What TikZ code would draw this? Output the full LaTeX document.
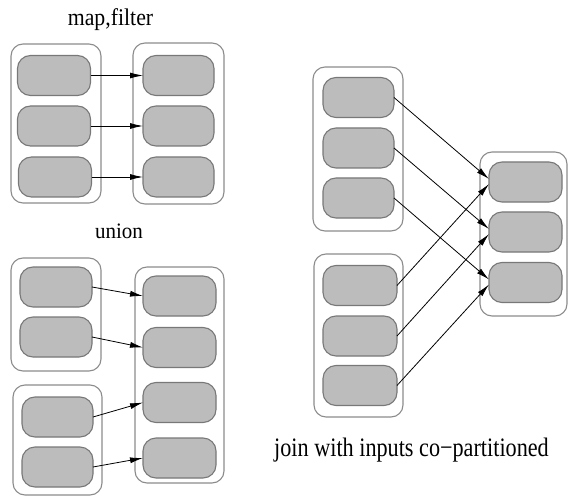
\documentclass[tikz,border=0pt]{standalone}
\usepackage{fontspec}
\setmainfont{Liberation Serif}
\usetikzlibrary{arrows.meta}

\definecolor{partfill}{RGB}{188,188,188}
\definecolor{partline}{RGB}{120,120,120}
\definecolor{groupline}{RGB}{140,140,140}

\begin{document}
\begin{tikzpicture}[
  x=1bp, y=-1bp,
  group/.style={draw=groupline, line width=1.1bp, fill=white, rounded corners=12bp,
                inner sep=0pt, outer sep=0pt},
  part/.style={draw=partline, line width=1.1bp, fill=partfill, rounded corners=13bp,
               inner sep=0pt, outer sep=0pt, minimum height=40bp},
  flow/.style={line width=0.8bp, -{Latex[length=13bp,width=6bp]}},
  caption/.style={anchor=base, inner sep=0pt}
]
\useasboundingbox (0,0) rectangle (568,496);

% ---------- map, filter ----------
\node[caption, font=\fontsize{21.8bp}{26bp}\selectfont, yscale=1.1] (tmap) at (110.5,25.5) {map,filter};
\node[group, minimum width=90bp, minimum height=159bp] (mA) at (56,123.5) {};
\node[group, minimum width=91bp, minimum height=161bp] (mB) at (178.5,123.5) {};
\node[part, minimum width=73bp] (ma1) at (54,75.5) {};
\node[part, minimum width=73bp] (ma2) at (54,126) {};
\node[part, minimum width=73bp] (ma3) at (55,177) {};
\node[part, minimum width=71bp] (mb1) at (178.5,75.5) {};
\node[part, minimum width=71bp] (mb2) at (178.5,126) {};
\node[part, minimum width=71bp] (mb3) at (178.5,177) {};
\draw[flow] (ma1) -- (mb1);
\draw[flow] (ma2) -- (mb2);
\draw[flow] (ma3) -- (mb3);

% ---------- union ----------
\node[caption, font=\fontsize{21bp}{25bp}\selectfont, yscale=1.05] (tunion) at (119,238) {union};
\node[group, minimum width=90bp, minimum height=113bp] (uA) at (56,314.5) {};
\node[group, minimum width=89bp, minimum height=110bp] (uB) at (57.5,440) {};
\node[group, minimum width=89bp, minimum height=216bp] (uC) at (179.5,375) {};
\node[part, minimum width=72bp] (ua1) at (56,287) {};
\node[part, minimum width=72bp] (ua2) at (56,337) {};
\node[part, minimum width=71bp] (ub1) at (57.5,417) {};
\node[part, minimum width=71bp] (ub2) at (57.5,467) {};
\node[part, minimum width=73bp] (uc1) at (179.5,296) {};
\node[part, minimum width=73bp] (uc2) at (179.5,347.5) {};
\node[part, minimum width=73bp] (uc3) at (179.5,402.5) {};
\node[part, minimum width=73bp] (uc4) at (179.5,458) {};
\draw[flow] (ua1.east) -- (uc1.west);
\draw[flow] (ua2.east) -- (uc2.west);
\draw[flow] (ub1.east) -- (uc3.west);
\draw[flow] (ub2.east) -- (uc4.west);

% ---------- join ----------
\node[caption, font=\fontsize{22.2bp}{26bp}\selectfont, yscale=1.2] (tjoin) at (411.5,456) {join with inputs co−partitioned};
\node[group, minimum width=90bp, minimum height=164bp] (jA) at (358,149) {};
\node[group, minimum width=89bp, minimum height=163bp] (jB) at (358.5,335.5) {};
\node[group, minimum width=87bp, minimum height=164bp] (jC) at (523.5,234) {};
\node[part, minimum width=71bp] (ja1) at (358.5,97.5) {};
\node[part, minimum width=71bp] (ja2) at (358.5,148) {};
\node[part, minimum width=71bp] (ja3) at (358.5,198) {};
\node[part, minimum width=74bp] (jb1) at (360,285.5) {};
\node[part, minimum width=74bp] (jb2) at (360,336) {};
\node[part, minimum width=74bp] (jb3) at (360,385.5) {};
\node[part, minimum width=73bp] (jc1) at (525.5,182) {};
\node[part, minimum width=73bp] (jc2) at (525.5,232) {};
\node[part, minimum width=73bp] (jc3) at (525.5,282.5) {};
\draw[flow] (ja1.east) -- ([yshift=3bp]jc1.west);
\draw[flow] (ja2.east) -- ([yshift=3bp]jc2.west);
\draw[flow] (ja3.east) -- ([yshift=3bp]jc3.west);
\draw[flow] (jb1.east) -- ([yshift=-2bp]jc1.west);
\draw[flow] (jb2.east) -- ([yshift=-2bp]jc2.west);
\draw[flow] (jb3.east) -- ([yshift=-2bp]jc3.west);
\end{tikzpicture}
\end{document}
